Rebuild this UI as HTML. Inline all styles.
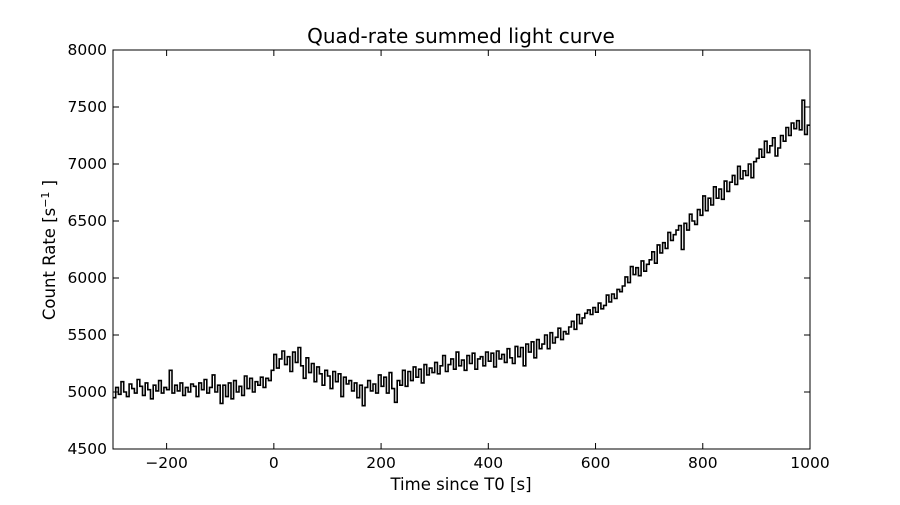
<!DOCTYPE html>
<html><head><meta charset="utf-8"><style>
body{margin:0;background:#fff;}
svg text{font-family:"DejaVu Sans","Liberation Sans",sans-serif;fill:#000;}
</style></head><body>
<svg id="chart" width="900" height="500" xmlns="http://www.w3.org/2000/svg">
<rect width="900" height="500" fill="#fff"/>
<text x="461" y="43" font-size="20" text-anchor="middle">Quad-rate summed light curve</text>
<g id="plot"></g>
<text x="461" y="490" font-size="16.5" text-anchor="middle">Time since T0 [s]</text>
<text transform="translate(55,250) rotate(-90)" font-size="16.5" text-anchor="middle">Count Rate [s<tspan font-size="11" dy="-6">−1</tspan><tspan dy="6"> ]</tspan></text>
</svg>
<script>
const xTicks=[-200,0,200,400,600,800,1000];
const yTicks=[4500,5000,5500,6000,6500,7000,7500,8000];
const tStart=-300, tStep=5;
const rates=[4950,5040,4980,5090,5000,4960,5070,5030,4990,5110,
5050,4970,5080,5020,4940,5060,5010,5100,4990,5040,
5020,5190,4990,5060,5010,5080,4970,5040,5000,5070,
5050,4960,5080,5020,5110,4990,5040,5150,5000,5060,
4900,5060,4960,5080,4940,5100,5000,5050,4970,5140,
5030,5120,5000,5090,5060,5130,5040,5120,5100,5190,
5330,5210,5290,5360,5240,5310,5180,5350,5260,5390,
5230,5120,5300,5170,5250,5090,5220,5160,5060,5190,
5140,5030,5180,5090,5160,4960,5130,5070,5100,5010,
5080,4950,5060,4880,5040,5100,5010,5070,4990,5150,
5050,5130,4990,5170,5030,4910,5100,5060,5190,5050,
5180,5100,5220,5130,5200,5080,5240,5150,5210,5170,
5260,5160,5230,5320,5180,5240,5290,5200,5350,5230,
5280,5190,5320,5250,5340,5200,5290,5310,5230,5350,
5270,5340,5220,5360,5290,5330,5260,5380,5300,5250,
5400,5310,5390,5230,5420,5350,5440,5300,5460,5380,
5420,5500,5380,5520,5430,5480,5560,5460,5530,5510,
5570,5620,5550,5680,5600,5650,5690,5720,5680,5740,
5700,5780,5730,5760,5850,5790,5860,5820,5900,5880,
5930,6010,5960,6100,6030,6090,6020,6150,6060,6120,
6160,6230,6130,6290,6220,6310,6260,6400,6330,6380,
6420,6460,6250,6480,6420,6560,6500,6470,6600,6550,
6720,6590,6700,6640,6800,6700,6780,6690,6850,6760,
6840,6900,6820,6980,6870,6940,6900,7000,6880,7020,
7050,7130,7060,7200,7100,7160,7230,7070,7140,7250,
7200,7320,7250,7360,7310,7380,7300,7560,7260,7340];
const L=113,R=810,T=50,B=449;
const xs=v=>L+(v-(-300))/(1000-(-300))*(R-L);
const ys=v=>B-(v-4500)/(8000-4500)*(B-T);
const NS='http://www.w3.org/2000/svg';
const g=document.getElementById('plot');
function mk(tag,attrs){const e=document.createElementNS(NS,tag);for(const k in attrs)e.setAttribute(k,attrs[k]);g.appendChild(e);return e;}
let d='';
rates.forEach((v,i)=>{const x0=xs(tStart+i*tStep),x1=xs(tStart+(i+1)*tStep);const y=ys(v);d+=(i?'L':'M')+x0.toFixed(1)+','+y.toFixed(1)+'L'+Math.min(x1,R).toFixed(1)+','+y.toFixed(1);});
const line=mk('path',{d:d,fill:'none',stroke:'#000','stroke-width':1.6});


xTicks.forEach(t=>{const x=xs(t);
 mk('line',{x1:x,x2:x,y1:B,y2:B-6,stroke:'#000'});mk('line',{x1:x,x2:x,y1:T,y2:T+6,stroke:'#000'});
 const tx=mk('text',{x:x,y:B+19,'font-size':15.5,'text-anchor':'middle'});tx.textContent=t<0?'\u2212'+(-t):t;
 
 });
yTicks.forEach(t=>{const y=ys(t);
 mk('line',{x1:L,x2:L+6,y1:y,y2:y,stroke:'#000'});mk('line',{x1:R,x2:R-6,y1:y,y2:y,stroke:'#000'});
 const tx=mk('text',{x:L-6,y:y+5,'font-size':15.5,'text-anchor':'end'});tx.textContent=t;
 
 });
const fr=mk('rect',{x:L,y:T,width:R-L,height:B-T,fill:'none',stroke:'#000','stroke-width':1});


</script>
</body></html>
